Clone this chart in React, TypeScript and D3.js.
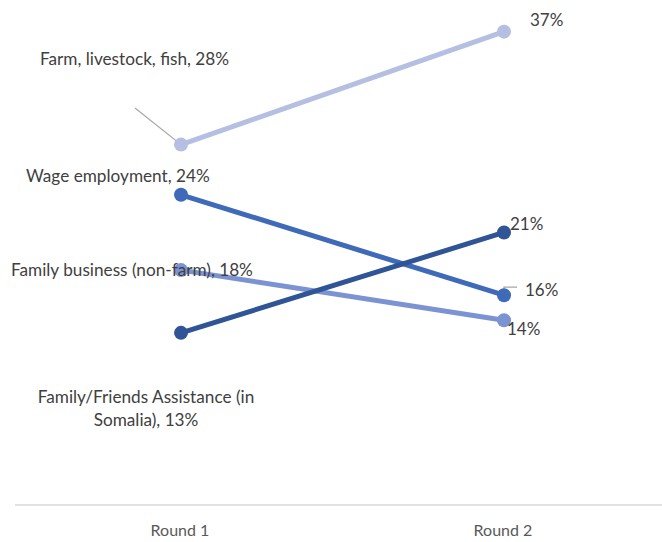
import React from "react";
import * as d3 from "d3";

const rounds = ["Round 1", "Round 2"];
const seriesNames = [
  "Farm, livestock, fish",
  "Wage employment",
  "Family business (non-farm)",
  "Family/Friends Assistance (in Somalia)",
];
const round1Values = [28, 24, 18, 13];
const round2Values = [37, 16, 14, 21];
const seriesColors = ["#B4BFE1", "#3E6AB9", "#7C93D3", "#2F5597"];

const W = 662;
const H = 542;

export default function App() {
  const x = d3.scalePoint<string>().domain(rounds).range([181, 504]);
  const y = d3.scaleLinear().domain([0, 40]).range([496, -6]);
  const axisY = 505;
  const font = "Lato, 'Open Sans', sans-serif";
  const textColor = "#404040";

  const line = d3
    .line<[string, number]>()
    .x((d) => x(d[0]) as number)
    .y((d) => y(d[1]));

  const x1 = x(rounds[0]) as number;
  const x2 = x(rounds[1]) as number;

  const fmt = (v: number) => `${v}%`;

  return (
    <svg
      width={W}
      height={H}
      style={{ position: "absolute", left: 0, top: 0, background: "#fff" }}
      fontFamily={font}
    >
      <line x1={15} x2={662} y1={axisY} y2={axisY} stroke="#D9D9D9" strokeWidth={1.5} />
      {rounds.map((r) => (
        <text
          key={r}
          x={(x(r) as number) - 1}
          y={536}
          textAnchor="middle"
          fontSize={16}
          fill="#595959"
        >
          {r}
        </text>
      ))}

      {/* leader lines */}
      <line x1={135} y1={108} x2={x1} y2={y(round1Values[0])} stroke="#A6A6A6" strokeWidth={1.2} />
      <polyline
        points={`${x2},${y(round2Values[1]) - 1} ${x2},${y(round2Values[1]) - 8} ${x2 + 13},${y(round2Values[1]) - 8}`}
        fill="none"
        stroke="#A6A6A6"
        strokeWidth={1.2}
      />

      {seriesNames.map((name, i) => {
        const pts: [string, number][] = [
          [rounds[0], round1Values[i]],
          [rounds[1], round2Values[i]],
        ];
        return (
          <g key={name}>
            <path d={line(pts) as string} fill="none" stroke={seriesColors[i]} strokeWidth={5} />
            {pts.map((p, j) => (
              <circle key={j} cx={x(p[0]) as number} cy={y(p[1])} r={7} fill={seriesColors[i]} />
            ))}
          </g>
        );
      })}

      {/* left labels */}
      <g fontSize={17.2} fill={textColor}>
        <text x={40} y={65}>{`${seriesNames[0]}, ${fmt(round1Values[0])}`}</text>
        <text x={26} y={182}>{`${seriesNames[1]}, ${fmt(round1Values[1])}`}</text>
        <text x={11} y={276}>{`${seriesNames[2]}, ${fmt(round1Values[2])}`}</text>
        <text x={146} y={403} textAnchor="middle">Family/Friends Assistance (in</text>
        <text x={146} y={426} textAnchor="middle">{`Somalia), ${fmt(round1Values[3])}`}</text>
      </g>

      {/* right labels */}
      <g fontSize={17} fill={textColor}>
        <text x={530} y={26}>{fmt(round2Values[0])}</text>
        <text x={525} y={296}>{fmt(round2Values[1])}</text>
        <text x={507} y={335}>{fmt(round2Values[2])}</text>
        <text x={510} y={230}>{fmt(round2Values[3])}</text>
      </g>
    </svg>
  );
}
